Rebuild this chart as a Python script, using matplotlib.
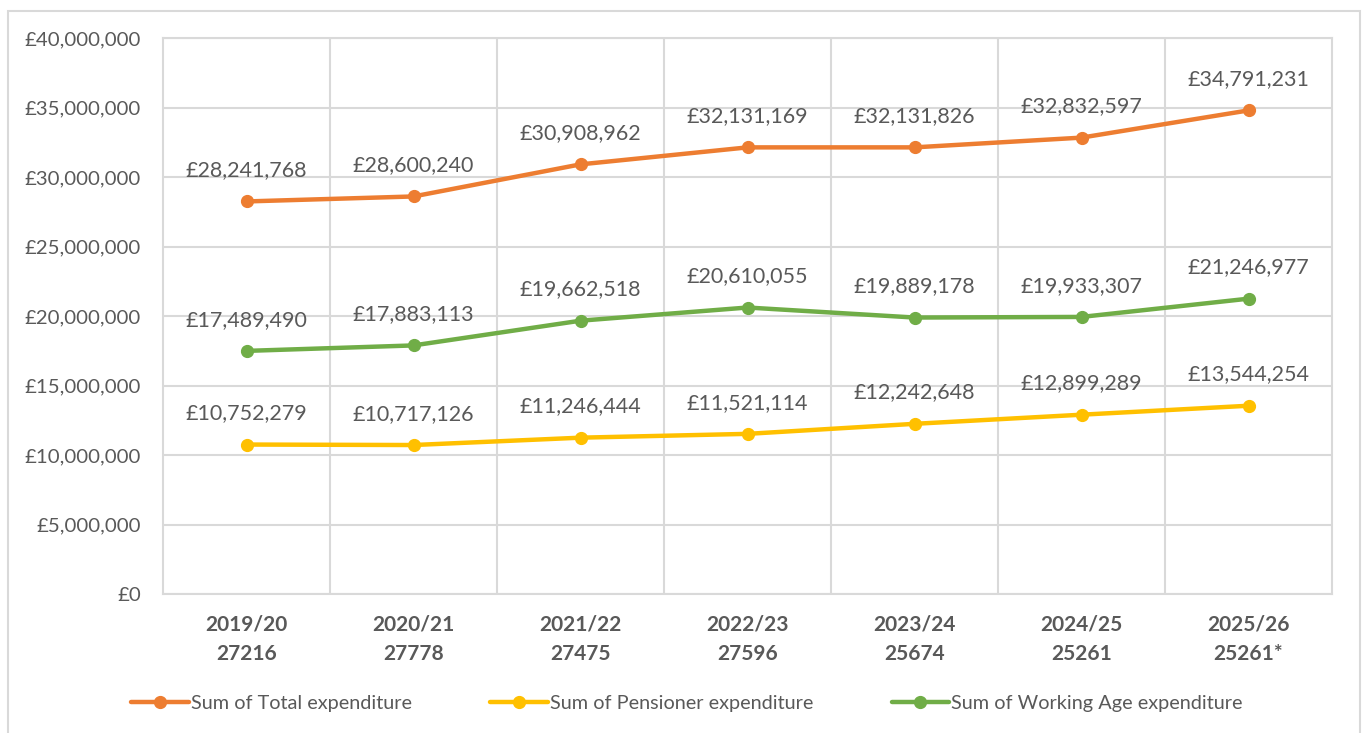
import matplotlib
matplotlib.use("Agg")
import matplotlib.pyplot as plt
from matplotlib.patches import Rectangle
from matplotlib.ticker import FuncFormatter, MultipleLocator

plt.rcParams['font.family'] = ['Lato', 'DejaVu Sans']

categories = ["2019/20\n27216", "2020/21\n27778", "2021/22\n27475", "2022/23\n27596",
              "2023/24\n25674", "2024/25\n25261", "2025/26\n25261*"]
total = [28241768, 28600240, 30908962, 32131169, 32131826, 32832597, 34791231]
pensioner = [10752279, 10717126, 11246444, 11521114, 12242648, 12899289, 13544254]
working_age = [17489490, 17883113, 19662518, 20610055, 19889178, 19933307, 21246977]

series = [
    ("Sum of Total expenditure", total, "#ED7D31"),
    ("Sum of Pensioner expenditure", pensioner, "#FFC000"),
    ("Sum of Working Age expenditure", working_age, "#70AD47"),
]

TXT = "#595959"
GRID = "#D9D9D9"

fig = plt.figure(figsize=(13.63, 7.33), dpi=100)
fig.patches.append(Rectangle((8/1363, -0.01), (1360-8)/1363, 1 - 11/733 + 0.01,
                             transform=fig.transFigure, fill=False,
                             edgecolor=GRID, linewidth=1.5))
ax = fig.add_axes([163/1363, 1-594/733, (1332-163)/1363, (594-38)/733])

x = list(range(len(categories)))
handles = []
for name, vals, col in series:
    h, = ax.plot(x, vals, color=col, linewidth=3.2, marker='o', markersize=8.5,
                 solid_capstyle='round', label=name, zorder=3)
    handles.append(h)
    for xi, v in zip(x, vals):
        ax.annotate(f"£{v:,.0f}", (xi, v), xytext=(0, 22.5), textcoords='offset points',
                    ha='center', va='center', fontsize=15.5, color=TXT)

ax.set_xlim(-0.5, len(categories) - 0.5)
ax.set_ylim(0, 40000000)
ax.yaxis.set_major_locator(MultipleLocator(5000000))
ax.yaxis.set_major_formatter(FuncFormatter(lambda v, p: f"£{v:,.0f}"))
ax.set_xticks(x)
ax.set_xticklabels(categories, fontsize=15, fontweight='bold', color=TXT, linespacing=1.55)
ax.set_xticks([i + 0.5 for i in range(len(categories) - 1)], minor=True)
ax.tick_params(axis='x', which='both', length=0, pad=15)
ax.tick_params(axis='y', length=0, labelsize=14.7, labelcolor=TXT, pad=16)
ax.grid(axis='y', color=GRID, linewidth=1.5)
ax.grid(axis='x', which='minor', color=GRID, linewidth=1.5)
ax.set_axisbelow(True)
for s in ax.spines.values():
    s.set_color(GRID)
    s.set_linewidth(1.5)

fig.legend(handles=handles, loc='center', bbox_to_anchor=(0.504, 1-703/733), ncol=3,
           frameon=False, fontsize=14.3, labelcolor=TXT, handlelength=2.9,
           handletextpad=0.1, columnspacing=3.95)

fig.savefig("out.png", dpi=100, facecolor='white')
